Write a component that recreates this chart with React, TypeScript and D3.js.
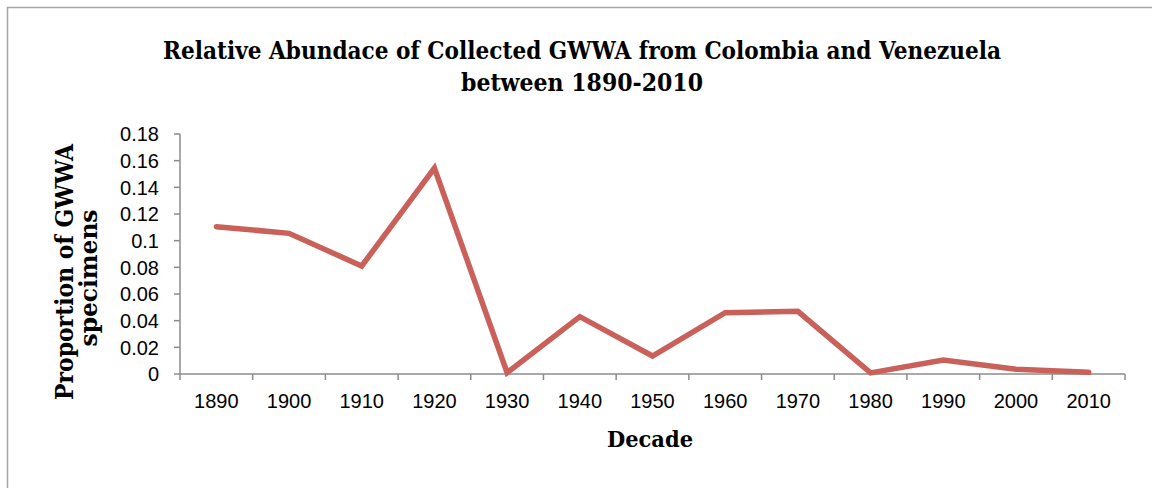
import * as d3 from 'd3'

const DECADES = ['1890', '1900', '1910', '1920', '1930', '1940', '1950', '1960', '1970', '1980', '1990', '2000', '2010']
const PROPORTION = [0.1105, 0.1055, 0.081, 0.1545, 0.001, 0.043, 0.0135, 0.046, 0.047, 0.0008, 0.0105, 0.0035, 0.0013]
const Y_TICKS = [0, 0.02, 0.04, 0.06, 0.08, 0.1, 0.12, 0.14, 0.16, 0.18]

const W = 1152
const H = 488
const LINE_COLOR = '#C9605A'
const AXIS_COLOR = '#8c8c8c'
const SERIF = '"DejaVu Serif", "Liberation Serif", serif'
const SANS = '"Liberation Sans", Arial, sans-serif'

export default function App() {
  const left = 180
  const right = 1125
  const top = 134
  const bottom = 374

  const x = d3.scaleBand<string>().domain(DECADES).range([left, right])
  const y = d3.scaleLinear().domain([0, 0.18]).range([bottom, top])

  const line = d3
    .line<number>()
    .x((_, i) => (x(DECADES[i]) ?? 0) + x.bandwidth() / 2)
    .y((d) => y(d))

  const bandEdges = DECADES.map((d) => x(d) ?? 0).concat([right])

  return (
    <svg width={W} height={H} style={{ position: 'absolute', left: 0, top: 0 }}>
      <rect x={0} y={0} width={W} height={H} fill="#fff" />
      {/* outer frame */}
      <line x1={7.5} y1={7} x2={7.5} y2={H} stroke="#a6a6a6" strokeWidth={1.5} />
      <line x1={7} y1={7.5} x2={W} y2={7.5} stroke="#a6a6a6" strokeWidth={1.5} />

      <text x={582} y={59} textAnchor="middle" fontFamily={SERIF} fontWeight="bold" fontSize={24} textLength={838} lengthAdjust="spacingAndGlyphs">
        Relative Abundace of Collected GWWA from Colombia and Venezuela
      </text>
      <text x={582} y={91} textAnchor="middle" fontFamily={SERIF} fontWeight="bold" fontSize={24} textLength={242} lengthAdjust="spacingAndGlyphs">
        between 1890-2010
      </text>

      {/* y axis */}
      <line x1={left} y1={top} x2={left} y2={bottom} stroke={AXIS_COLOR} strokeWidth={1.5} />
      {Y_TICKS.map((t) => (
        <g key={t}>
          <line x1={left - 6} x2={left} y1={y(t)} y2={y(t)} stroke={AXIS_COLOR} strokeWidth={1.5} />
          <text x={left - 21} y={y(t)} dy="0.36em" textAnchor="end" fontFamily={SANS} fontSize={20} fill="#000">
            {String(t)}
          </text>
        </g>
      ))}

      {/* x axis */}
      <line x1={left} y1={bottom} x2={right} y2={bottom} stroke={AXIS_COLOR} strokeWidth={1.5} />
      {bandEdges.map((e, i) => (
        <line key={i} x1={e} x2={e} y1={bottom} y2={bottom + 6} stroke={AXIS_COLOR} strokeWidth={1.5} />
      ))}
      {DECADES.map((d) => (
        <text key={d} x={(x(d) ?? 0) + x.bandwidth() / 2} y={408} textAnchor="middle" fontFamily={SANS} fontSize={20} fill="#000">
          {d}
        </text>
      ))}

      <path d={line(PROPORTION) ?? undefined} fill="none" stroke={LINE_COLOR} strokeWidth={5.5} strokeLinejoin="miter" strokeLinecap="round" />

      <text x={650} y={447} textAnchor="middle" fontFamily={SERIF} fontWeight="bold" fontSize={23} textLength={86} lengthAdjust="spacingAndGlyphs">
        Decade
      </text>

      <text transform="translate(73,272) rotate(-90)" textAnchor="middle" fontFamily={SERIF} fontWeight="bold" fontSize={24} textLength={256} lengthAdjust="spacingAndGlyphs">
        Proportion of GWWA
      </text>
      <text transform="translate(97,278) rotate(-90)" textAnchor="middle" fontFamily={SERIF} fontWeight="bold" fontSize={24} textLength={137} lengthAdjust="spacingAndGlyphs">
        specimens
      </text>
    </svg>
  )
}
